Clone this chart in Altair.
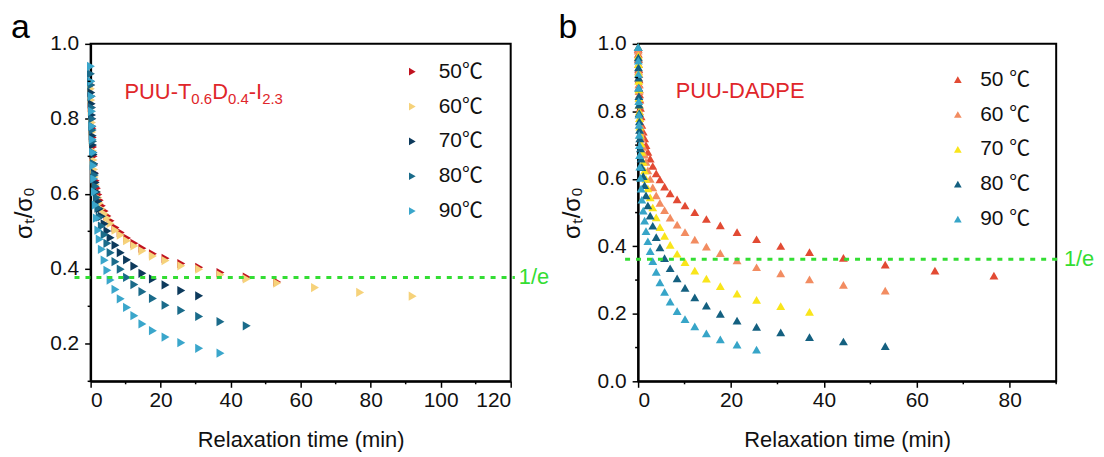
import altair as alt
import pandas as pd

# ---------------- data ----------------
TA = [0.1, 0.2, 0.3, 0.4, 0.5, 0.6, 0.7, 0.85, 1.0, 1.2, 1.45, 1.8, 2.2, 2.6, 3.2, 4.0, 4.8,
      5.7, 7.1, 8.6, 10.4, 12.5, 14.8, 17.8, 21.4, 25.9, 31.0, 37.1, 44.6, 53.3, 64.1, 77.0, 92.0]
A50 = [0.89, 0.86, 0.83, 0.80, 0.775, 0.75, 0.725, 0.70, 0.677, 0.655, 0.635, 0.615, 0.598, 0.583,
       0.568, 0.554, 0.541, 0.528, 0.51, 0.497, 0.482, 0.468, 0.455, 0.44, 0.428, 0.414, 0.404,
       0.39, 0.378, 0.365]
A60 = [0.88, 0.85, 0.82, 0.79, 0.765, 0.74, 0.715, 0.69, 0.665, 0.645, 0.625, 0.605, 0.59, 0.575,
       0.56, 0.547, 0.535, 0.521, 0.503, 0.49, 0.475, 0.461, 0.448, 0.434, 0.422, 0.408, 0.399,
       0.384, 0.373, 0.362, 0.35, 0.337, 0.327]
A70 = [0.90, 0.87, 0.84, 0.81, 0.78, 0.755, 0.73, 0.705, 0.68, 0.655, 0.63, 0.605, 0.58, 0.56,
       0.54, 0.52, 0.501, 0.483, 0.463, 0.443, 0.424, 0.407, 0.388, 0.373, 0.357, 0.342, 0.328]
A80 = [0.92, 0.89, 0.86, 0.83, 0.80, 0.77, 0.74, 0.71, 0.68, 0.65, 0.62, 0.59, 0.562, 0.538,
       0.514, 0.491, 0.468, 0.443, 0.419, 0.399, 0.377, 0.358, 0.339, 0.321, 0.303, 0.289, 0.273,
       0.259, 0.248]
A90 = [0.94, 0.90, 0.86, 0.82, 0.78, 0.745, 0.71, 0.675, 0.64, 0.605, 0.57, 0.535, 0.503, 0.479,
       0.452, 0.423, 0.396, 0.370, 0.345, 0.320, 0.297, 0.275, 0.253, 0.235, 0.218, 0.203, 0.188,
       0.175]

TB = [0.02, 0.05, 0.08, 0.11, 0.14, 0.17, 0.2, 0.24, 0.28, 0.32, 0.37, 0.5, 0.65, 0.8, 1.1, 1.4,
      1.7, 2.1, 2.6, 3.15, 3.9, 4.7, 5.7, 6.9, 8.4, 10.1, 12.2, 14.7, 17.7, 21.3, 25.5, 30.7, 36.9,
      44.2, 53.2, 63.9, 76.6]
B50 = [0.985, 0.97, 0.955, 0.94, 0.925, 0.91, 0.895, 0.88, 0.865, 0.85, 0.835, 0.81, 0.785, 0.76,
       0.74, 0.72, 0.70, 0.68, 0.66, 0.638, 0.616, 0.598, 0.577, 0.557, 0.539, 0.521, 0.501, 0.481,
       0.462, 0.442, 0.421, 0.401, 0.383, 0.366, 0.346, 0.328, 0.313]
B60 = [0.98, 0.96, 0.94, 0.92, 0.90, 0.88, 0.86, 0.84, 0.82, 0.80, 0.78, 0.76, 0.74, 0.72, 0.695,
       0.672, 0.65, 0.625, 0.60, 0.575, 0.551, 0.529, 0.507, 0.485, 0.464, 0.442, 0.42, 0.399,
       0.38, 0.358, 0.338, 0.32, 0.302, 0.286, 0.269]
B70 = [0.99, 0.965, 0.94, 0.915, 0.89, 0.865, 0.84, 0.82, 0.80, 0.78, 0.755, 0.73, 0.705, 0.68,
       0.65, 0.625, 0.60, 0.572, 0.545, 0.515, 0.486, 0.457, 0.431, 0.404, 0.378, 0.353, 0.328,
       0.304, 0.282, 0.26, 0.241, 0.223, 0.206]
B80 = [0.99, 0.96, 0.93, 0.90, 0.87, 0.845, 0.82, 0.795, 0.77, 0.745, 0.72, 0.69, 0.66, 0.635,
       0.608, 0.581, 0.551, 0.521, 0.491, 0.461, 0.427, 0.397, 0.365, 0.335, 0.305, 0.277, 0.249,
       0.224, 0.2, 0.18, 0.161, 0.145, 0.131, 0.118, 0.104]
B90 = [0.99, 0.95, 0.91, 0.87, 0.83, 0.79, 0.76, 0.73, 0.70, 0.67, 0.636, 0.603, 0.571, 0.538,
       0.506, 0.476, 0.445, 0.415, 0.386, 0.356, 0.324, 0.293, 0.265, 0.236, 0.208, 0.184, 0.163,
       0.142, 0.124, 0.109, 0.094]

LABELS_A = ["50℃", "60℃", "70℃", "80℃", "90℃"]
LABELS_B = ["50 ℃", "60 ℃", "70 ℃", "80 ℃", "90 ℃"]
COLORS_A = ["#C1121F", "#F6D27A", "#0D3A5C", "#1A6B8A", "#3AA6CB"]
COLORS_B = ["#E24A33", "#F28C61", "#F9E51B", "#146080", "#37A5C8"]

ONE_E_A = 0.377
ONE_E_B = 0.362

FONT = "Liberation Sans"
LEG_FONT = "Liberation Sans, Noto Sans CJK SC"
RED = "#E0262A"
GREEN = "#33DD33"


def frame(times, series, labels):
    rows = []
    for lab, vals in zip(labels, series):
        for t, v in zip(times, vals):
            rows.append({"t": t, "v": v, "T": lab})
    return pd.DataFrame(rows)


def panel(df, w, h, xdom, ydom, xticks, yticks, xminor, yminor, labels, colors, shape, size,
          leg_x, leg_y, lab_off, one_e, line_x, letter, annot_pieces, annot_pos):
    x_enc = alt.X("t:Q", scale=alt.Scale(domain=xdom, nice=False, zero=False),
                  axis=alt.Axis(values=xticks, format="d", title="Relaxation time (min)",
                                labelPadding=2, titlePadding=19))
    y_enc = alt.Y("v:Q", scale=alt.Scale(domain=ydom, nice=False, zero=False),
                  axis=alt.Axis(values=yticks, format=".1f", title="σₜ/σ₀",
                                labelPadding=6, titlePadding=13, titleFontSize=24))

    pts = alt.Chart(df).mark_point(shape=shape, filled=True, size=size, opacity=1,
                                   strokeWidth=0).encode(
        x=x_enc, y=y_enc,
        color=alt.Color("T:N", scale=alt.Scale(domain=labels, range=colors),
                        legend=alt.Legend(orient="none", legendX=leg_x, legendY=leg_y,
                                          title=None, symbolType=shape, symbolSize=60,
                                          symbolStrokeWidth=0, symbolOpacity=1,
                                          labelFont=LEG_FONT, labelFontSize=21,
                                          labelColor="#111", labelOffset=lab_off,
                                          rowPadding=13, padding=0)))

    line_df = pd.DataFrame({"t": [line_x[0]], "t2": [line_x[1]], "v": [one_e]})
    line = alt.Chart(line_df).mark_rule(color=GREEN, strokeWidth=3, strokeDash=[5, 6],
                                        clip=False).encode(x=x_enc, x2="t2:Q", y=y_enc)
    one_e_txt = alt.Chart(pd.DataFrame({"t": [line_x[1]], "v": [one_e]})).mark_text(
        text="1/e", align="left", baseline="middle", dx=4, font=FONT, fontSize=22,
        color=GREEN, clip=False).encode(x=x_enc, y=y_enc)

    minx = alt.Chart(pd.DataFrame({"t": xminor})).mark_rule(color="black", strokeWidth=1.5).encode(
        x=x_enc, y=alt.value(h), y2=alt.value(h + 3))
    miny = alt.Chart(pd.DataFrame({"v": yminor})).mark_rule(color="black", strokeWidth=1.5).encode(
        y=y_enc, x=alt.value(0), x2=alt.value(-3))

    layers = [pts, line, one_e_txt, minx, miny]
    pos_df = pd.DataFrame({"t": [annot_pos[0]], "v": [annot_pos[1]]})
    for txt, fs, dx, dy in annot_pieces:
        layers.append(alt.Chart(pos_df).mark_text(
            text=txt, align="left", baseline="alphabetic", font=FONT, fontSize=fs,
            color=RED, dx=dx, dy=dy).encode(x=x_enc, y=y_enc))

    layers.append(alt.Chart(pd.DataFrame({"k": [0]})).mark_text(
        text=letter, align="left", baseline="alphabetic", font=FONT, fontSize=34,
        color="black").encode(x=alt.value(-80), y=alt.value(-6)))

    return alt.layer(*layers).properties(width=w, height=h)


df_a = frame(TA, [A50, A60, A70, A80, A90], LABELS_A)
df_b = frame(TB, [B50, B60, B70, B80, B90], LABELS_B)

pa = panel(df_a, 422, 339, [0, 120], [0.1, 1.0], [0, 20, 40, 60, 80, 100, 120],
           [0.2, 0.4, 0.6, 0.8, 1.0], [10, 30, 50, 70, 90, 110], [0.1, 0.3, 0.5, 0.7, 0.9],
           LABELS_A, COLORS_A, "triangle-right", 85, 312.7, 17.5, 16, ONE_E_A, [-4.6, 121.2],
           "a",
           [("PUU-T", 22, 0, 0), ("0.6", 15, 67.2, 5.5), ("D", 22, 88.1, 0),
            ("0.4", 15, 104, 5.5), ("-I", 22, 124.9, 0), ("2.3", 15, 138.3, 5.5)],
           [9.67, 0.854])

pb = panel(df_b, 420, 339, [0, 90], [0.0, 1.0], [0, 20, 40, 60, 80],
           [0.0, 0.2, 0.4, 0.6, 0.8, 1.0], [10, 30, 50, 70, 90], [0.1, 0.3, 0.5, 0.7, 0.9],
           LABELS_B, COLORS_B, "triangle-up", 80, 310.7, 25.5, 12, ONE_E_B, [-2.8, 90.8],
           "b",
           [("PUU-DADPE", 22, 0, 0)],
           [8.08, 0.839])

chart = alt.hconcat(pa, pb, spacing=7).resolve_scale(color="independent").properties(
    padding={"left": 2, "top": 1, "right": 0, "bottom": 0}
).configure_view(stroke="black", strokeWidth=2).configure_axis(
    domainColor="black", domainWidth=2, tickColor="black", tickWidth=1.5, tickSize=6,
    labelFont=FONT, labelFontSize=21, labelColor="#111", titleFont=FONT, titleFontSize=22,
    titleColor="#111", titleFontWeight="normal", grid=False
)

chart.save("out.html", embed_options={"renderer": "svg", "actions": False})
